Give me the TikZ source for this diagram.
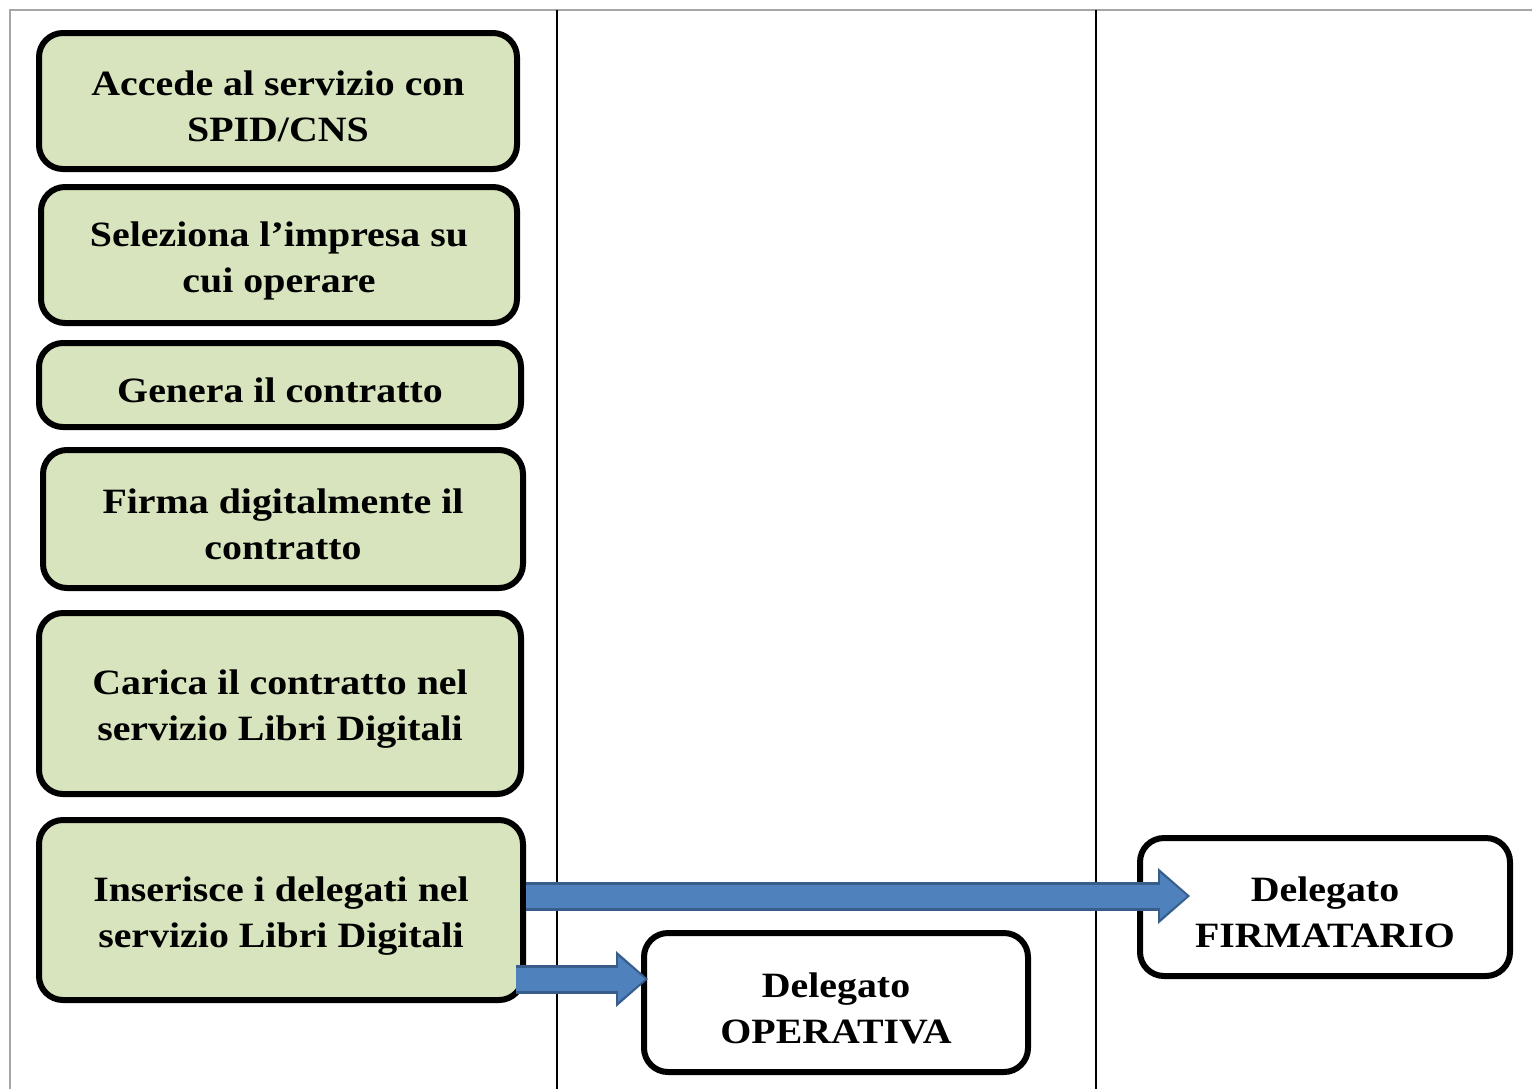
\documentclass[tikz,border=0pt]{standalone}
\usepackage{fontspec}
\setmainfont[FakeStretch=1.12]{Liberation Serif}
\usetikzlibrary{arrows.meta}
\definecolor{boxgreen}{HTML}{D7E4BD}
\definecolor{arrowfill}{HTML}{4F81BD}
\definecolor{arrowedge}{HTML}{385D8A}
\begin{document}
\begin{tikzpicture}[x=0.5pt,y=-0.5pt,
    stepbox/.style={draw,line width=3pt,rounded corners=12pt,fill=boxgreen,align=center,inner sep=0pt,
        text height=41pt,font=\bfseries\fontsize{17.8}{23}\selectfont},
    rolebox/.style={stepbox,fill=white},
    fatarrow/.style={preaction={draw=arrowedge,line width=14.5pt,shorten >=0pt,
        -{Triangle[length=16pt,width=28pt,line width=0pt]}},
        draw=arrowfill,line width=11.5pt,shorten >=1.5pt,
        -{Triangle[length=13.5pt,width=23pt,line width=0pt]}}]
        \useasboundingbox(0,0)rectangle(1532,1089);
        % frame and lanes
        \draw[gray!70,line width=1pt](10,1089)--(10,10)--(1532,10);
        \draw[line width=0.7pt](557,10)--(557,1089);
        \draw[line width=0.7pt](1096,10)--(1096,1089);
        % steps
        \node[stepbox,minimum width=239pt,minimum height=68pt](acc)at(278,101){Accede al servizio con\\SPID/CNS};
        \node[stepbox,minimum width=238pt,minimum height=68pt](sel)at(279,255){Seleziona l’impresa su\\cui operare};
        \node[stepbox,text height=18pt,minimum width=241pt,minimum height=42pt](gen)at(280,385){Genera il contratto};
        \node[stepbox,minimum width=240pt,minimum height=69pt](fir)at(283,519){Firma digitalmente il\\contratto};
        \node[stepbox,minimum width=241pt,minimum height=90.5pt](car)at(280,703.5){Carica il contratto nel\\servizio Libri Digitali};
        \node[stepbox,minimum width=242pt,minimum height=90pt](ins)at(281,910){Inserisce i delegati nel\\servizio Libri Digitali};
        % delegates
        \node[rolebox,minimum width=192pt,minimum height=69.5pt](op)at(836,1002.5){Delegato\\OPERATIVA};
        \node[rolebox,minimum width=185pt,minimum height=69pt](fm)at(1325,907){Delegato\\FIRMATARIO};
        \coordinate(fmtip)at(1190,896);
        \coordinate(optip)at(648,979);
        \draw[fatarrow](ins.east|-fmtip)--(fmtip);
        \draw[fatarrow]([xshift=-5pt]ins.east|-optip)--(optip);
    \end{tikzpicture}
\end{document}
